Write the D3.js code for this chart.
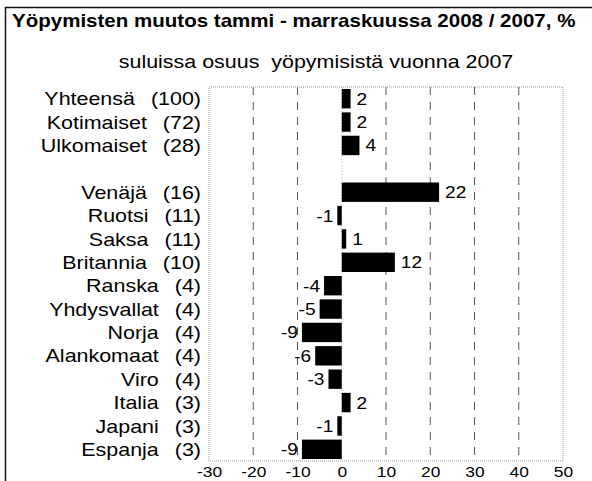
<!DOCTYPE html>
<html>
<head>
<meta charset="utf-8">
<script src="https://cdn.jsdelivr.net/npm/d3@7"></script>
<style>
  body { margin: 0; background: #fff; }
  svg { display: block; font-family: "Liberation Sans", Arial, sans-serif; }
</style>
</head>
<body>
<script>
// nimet, osuudet 2007 ja muutos %
var names = ["Yhteensä", "Kotimaiset", "Ulkomaiset", "", "Venäjä", "Ruotsi", "Saksa", "Britannia",
             "Ranska", "Yhdysvallat", "Norja", "Alankomaat", "Viro", "Italia", "Japani", "Espanja"];
var shares = [100, 72, 28, null, 16, 11, 11, 10, 4, 4, 4, 4, 4, 3, 3, 3];
var changes = [2, 2, 4, null, 22, -1, 1, 12, -4, -5, -9, -6, -3, 2, -1, -9];
var ticks = [-30, -20, -10, 0, 10, 20, 30, 40, 50];

var width = 592,
    height = 481;

var margin = {left: 209, right: 29, top: 87, bottom: 20};
var stretch = 1.16; // alkuperäinen kuva on leveämpi kuin Arial

var svg = d3.select("body").append("svg")
    .attr("width", width)
    .attr("height", height);

// teksti venytettynä vaakasuunnassa
function txt(g, xx, yy, size) {
    return g.append("text")
        .attr("transform", "translate(" + xx + "," + yy + ") scale(" + stretch + ",1)")
        .attr("font-size", size);
}

// kehys
svg.append("line")
    .attr("x1", 5).attr("x2", width).attr("y1", 7.5).attr("y2", 7.5)
    .attr("stroke", "#111").attr("stroke-width", 1.5);
svg.append("line")
    .attr("x1", 5.5).attr("x2", 5.5).attr("y1", 7).attr("y2", height)
    .attr("stroke", "#111").attr("stroke-width", 1.5);

txt(svg, 12, 27, 17.7)
    .attr("font-weight", "bold")
    .text("Yöpymisten muutos tammi - marraskuussa 2008 / 2007, %");

txt(svg, 316, 68, 18.5)
    .attr("text-anchor", "middle")
    .attr("xml:space", "preserve")
    .text("suluissa osuus  yöpymisistä vuonna 2007");

var x = d3.scaleLinear()
    .domain([-30, 50])
    .range([margin.left, width - margin.right]);

var y = d3.scaleBand()
    .domain(d3.range(names.length))
    .range([margin.top, height - margin.bottom])
    .paddingInner(0.17)
    .paddingOuter(0.085);

var plotBottom = height - margin.bottom;

// ruudukko
svg.append("g").selectAll("line")
    .data(ticks.filter(function (t) { return t > -30 && t < 50; }))
    .enter().append("line")
    .attr("x1", function (d) { return x(d); })
    .attr("x2", function (d) { return x(d); })
    .attr("y1", margin.top)
    .attr("y2", plotBottom)
    .attr("stroke", function (d) { return d == 0 ? "#bbb" : "#555"; })
    .attr("stroke-width", 1)
    .attr("stroke-dasharray", function (d) { return d == 0 ? "1,2" : "8,7"; });

svg.append("rect")
    .attr("x", x(-30)).attr("y", margin.top)
    .attr("width", x(50) - x(-30)).attr("height", plotBottom - margin.top)
    .attr("fill", "none").attr("stroke", "#999").attr("stroke-dasharray", "1,1");

var rows = d3.range(names.length).filter(function (i) { return changes[i] !== null; });

svg.append("g").selectAll("rect")
    .data(rows)
    .enter().append("rect")
    .attr("x", function (i) { return x(Math.min(0, changes[i])); })
    .attr("y", function (i) { return y(i); })
    .attr("width", function (i) { return Math.abs(x(changes[i]) - x(0)); })
    .attr("height", y.bandwidth())
    .attr("fill", "#000");

var vals = svg.append("g");
rows.forEach(function (i) {
    var neg = changes[i] < 0;
    txt(vals, neg ? x(changes[i]) - 4 : x(changes[i]) + 6, y(i) + y.bandwidth() / 2, 16.5)
        .attr("dy", "0.36em")
        .attr("text-anchor", neg ? "end" : "start")
        .text(String(changes[i]));
});

// nimet ja osuudet
var labs = svg.append("g");
rows.forEach(function (i) {
    var cy = y(i) + y.bandwidth() / 2;
    var s = txt(labs, 201, cy, 18.5)
        .attr("dy", "0.36em")
        .attr("text-anchor", "end")
        .text("(" + shares[i] + ")");
    var w = s.node().getComputedTextLength() * stretch;
    txt(labs, 201 - w - 16, cy, 18.5)
        .attr("dy", "0.36em")
        .attr("text-anchor", "end")
        .text(names[i]);
});

var xAxis = d3.axisBottom(x)
    .tickValues(ticks)
    .tickFormat(function (d) { return String(d); })
    .tickSize(0)
    .tickPadding(5);

svg.append("g")
    .attr("transform", "translate(0," + plotBottom + ")")
    .call(xAxis)
    .call(function (g) { g.select(".domain").remove(); })
    .selectAll("text")
    .attr("font-size", 15)
    .attr("font-family", "Liberation Sans, Arial, sans-serif")
    .attr("fill", "#000")
    .attr("transform", "scale(" + stretch + ",1)");
</script>
</body>
</html>
